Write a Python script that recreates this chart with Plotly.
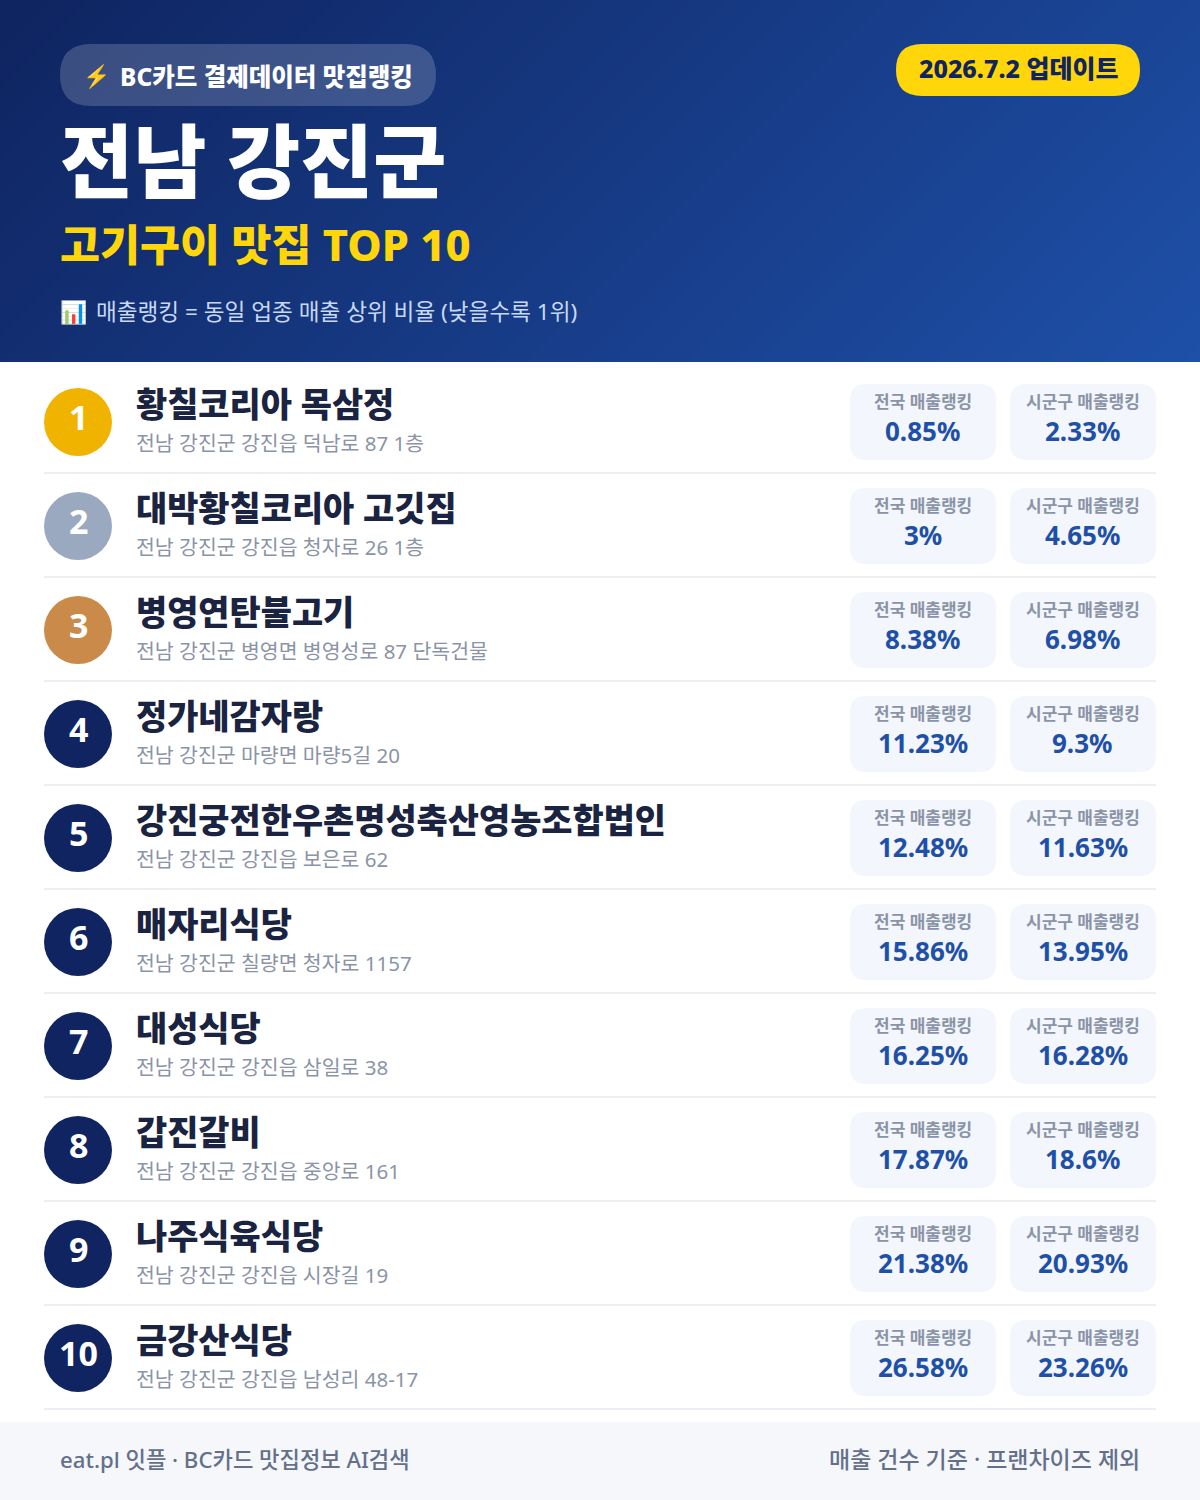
import plotly.graph_objects as go

names = ["황칠코리아 목삼정", "대박황칠코리아 고깃집", "병영연탄불고기", "정가네감자랑", "강진궁전한우촌명성축산영농조합법인",
         "매자리식당", "대성식당", "갑진갈비", "나주식육식당", "금강산식당"]
addresses = ["전남 강진군 강진읍 덕남로 87 1층", "전남 강진군 강진읍 청자로 26 1층", "전남 강진군 병영면 병영성로 87 단독건물",
             "전남 강진군 마량면 마량5길 20", "전남 강진군 강진읍 보은로 62", "전남 강진군 칠량면 청자로 1157",
             "전남 강진군 강진읍 삼일로 38", "전남 강진군 강진읍 중앙로 161", "전남 강진군 강진읍 시장길 19",
             "전남 강진군 강진읍 남성리 48-17"]
national = ["0.85%", "3%", "8.38%", "11.23%", "12.48%", "15.86%", "16.25%", "17.87%", "21.38%", "26.58%"]
local = ["2.33%", "4.65%", "6.98%", "9.3%", "11.63%", "13.95%", "16.28%", "18.6%", "20.93%", "23.26%"]
rank_colors = ["#f0b400", "#9aa8c0", "#c98a4a"] + ["#0f2460"] * 7

FONT = "Noto Sans, Noto Sans CJK KR"
W, H = 1200, 1500
HEAD = 362


def rrect(x0, y0, x1, y1, r):
    return (f"M{x0+r},{y0} L{x1-r},{y0} Q{x1},{y0} {x1},{y0+r} L{x1},{y1-r} Q{x1},{y1} {x1-r},{y1} "
            f"L{x0+r},{y1} Q{x0},{y1} {x0},{y1-r} L{x0},{y0+r} Q{x0},{y0} {x0+r},{y0} Z")


shapes = []
notes = []


def box(x0, y0, x1, y1, r, color):
    shapes.append(dict(type="path", path=rrect(x0, y0, x1, y1, r), fillcolor=color, line_width=0))


def label(x, y, s, size, color, weight=400, anchor="left"):
    notes.append(dict(x=x, y=y, text=s, showarrow=False, xanchor=anchor, yanchor="middle",
                      borderpad=0, borderwidth=0,
                      font=dict(family=FONT, size=size, color=color, weight=weight)))


# header gradient, running corner to corner
fig = go.Figure(go.Heatmap(
    x=[0, W], y=[0, HEAD],
    z=[[0, W / (W + HEAD)], [HEAD / (W + HEAD), 1]],
    colorscale=[[0, "#0f2460"], [1, "#1e50a8"]],
    zsmooth="best", showscale=False, hoverinfo="skip"))

# heatmap image runs half a cell past its centres, so cover the page below it
shapes.append(dict(type="rect", x0=0, x1=W, y0=HEAD, y1=H, fillcolor="#ffffff", line_width=0))

box(60, 44, 436, 106, 31, "rgba(255,255,255,0.18)")
box(896, 44, 1140, 96, 26, "#ffd60a")
label(83, 75, "⚡", 22, "#ffb300")
label(120, 76, "BC카드 결제데이터 맛집랭킹", 24.5, "#ffffff", 800)
label(1018, 68, "2026.7.2 업데이트", 25, "#0f2460", 800, "center")
label(60, 160, "전남 강진군", 79.5, "#ffffff", 900)
label(60, 244, "고기구이 맛집 TOP 10", 43.5, "#ffd60a", 800)
label(60, 311, "📊", 22, "#ffffff")
label(96, 311, "매출랭킹 = 동일 업종 매출 상위 비율 (낮을수록 1위)", 22.6, "#c8d8f5")

for i in range(len(names)):
    top = 370 + 104 * i
    shapes.append(dict(type="circle", x0=44, x1=112, y0=top + 18, y1=top + 86,
                       fillcolor=rank_colors[i], line_width=0))
    label(78, top + 47, str(i + 1), 34, "#ffffff", 700, "center")
    label(136, top + 34, names[i], 33.9, "#1a2340", 900)
    label(136, top + 73, addresses[i], 20.5, "#8a94a6")
    box(850, top + 14, 996, top + 90, 16, "#f3f6fc")
    box(1010, top + 14, 1156, top + 90, 16, "#f3f6fc")
    label(923, top + 31, "전국 매출랭킹", 17, "#8a94a6", 700, "center")
    label(1083, top + 31, "시군구 매출랭킹", 17, "#8a94a6", 700, "center")
    label(922.5, top + 61, national[i], 26, "#1e50a8", 700, "center")
    label(1082.5, top + 61, local[i], 26, "#1e50a8", 700, "center")
    shapes.append(dict(type="rect", x0=44, x1=1156, y0=top + 102, y1=top + 104,
                       fillcolor="#eceef1", line_width=0))

shapes.append(dict(type="rect", x0=0, x1=W, y0=1422, y1=H, fillcolor="#f5f7fb", line_width=0))
label(60, 1459, "eat.pl 잇플 · BC카드 맛집정보 AI검색", 22.2, "#64708a", 500)
label(1140, 1459, "매출 건수 기준 · 프랜차이즈 제외", 23, "#64708a", 500, "right")

fig.update_layout(
    width=W, height=H, margin=dict(l=0, r=0, t=0, b=0),
    paper_bgcolor="#ffffff", plot_bgcolor="#ffffff",
    xaxis=dict(range=[0, W], visible=False, fixedrange=True),
    yaxis=dict(range=[H, 0], visible=False, fixedrange=True),
    shapes=shapes, annotations=notes)

fig.write_html("out.html", config={"displayModeBar": False},
               post_script="document.body.style.margin='0';")
